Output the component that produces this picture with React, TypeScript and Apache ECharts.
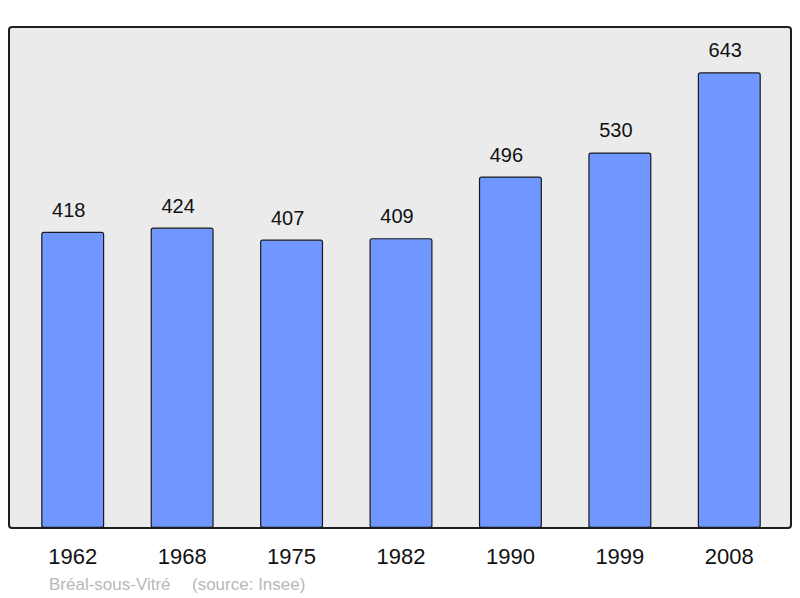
import React, { useEffect, useRef } from "react";
import * as echarts from "echarts";

const years = ["1962", "1968", "1975", "1982", "1990", "1999", "2008"];
const population = [418, 424, 407, 409, 496, 530, 643];
const placeName = "Bréal-sous-Vitré";
const sourceText = "(source: Insee)";

const FONT = "Liberation Sans, Arial, sans-serif";

export default function App() {
  const chartRef = useRef<HTMLDivElement>(null);

  useEffect(() => {
    if (!chartRef.current) return;
    const chart = echarts.init(chartRef.current, undefined, { renderer: "svg" });

    const option: echarts.EChartsOption = {
      animation: false,
      backgroundColor: "#ffffff",
      textStyle: { fontFamily: FONT },
      graphic: [
        {
          type: "rect",
          z: -10,
          shape: { x: 9, y: 27, width: 782, height: 501, r: 3 },
          style: { fill: "#ebebeb", stroke: "#1e1e1e", lineWidth: 2 },
        },
        {
          type: "text",
          left: 49,
          top: 576,
          style: { text: placeName, fill: "#b8b8b8", fontSize: 17, fontFamily: FONT },
        },
        {
          type: "text",
          left: 192,
          top: 576,
          style: { text: sourceText, fill: "#b8b8b8", fontSize: 17, fontFamily: FONT },
        },
      ],
      grid: { left: 18, right: 16, top: 27, bottom: 70 },
      xAxis: {
        type: "category",
        data: years,
        axisLine: { show: false },
        axisTick: { show: false },
        axisLabel: {
          color: "#111",
          fontSize: 22,
          margin: 17,
          fontFamily: FONT,
        },
      },
      yAxis: {
        type: "value",
        min: 0,
        max: 707,
        show: false,
        splitLine: { show: false },
      },
      series: [
        {
          type: "bar",
          data: population,
          barWidth: 63,
          itemStyle: {
            color: "#7097ff",
            borderColor: "#1a1a1a",
            borderWidth: 1.2,
            borderRadius: 2,
          },
          label: {
            show: true,
            position: "top",
            distance: 12,
            offset: [-4, 0],
            color: "#111",
            fontSize: 20,
            fontFamily: FONT,
          },
        },
      ],
    };

    chart.setOption(option);
    return () => chart.dispose();
  }, []);

  return (
    <div
      ref={chartRef}
      style={{ position: "fixed", left: 0, top: 0, width: 800, height: 598 }}
    />
  );
}
